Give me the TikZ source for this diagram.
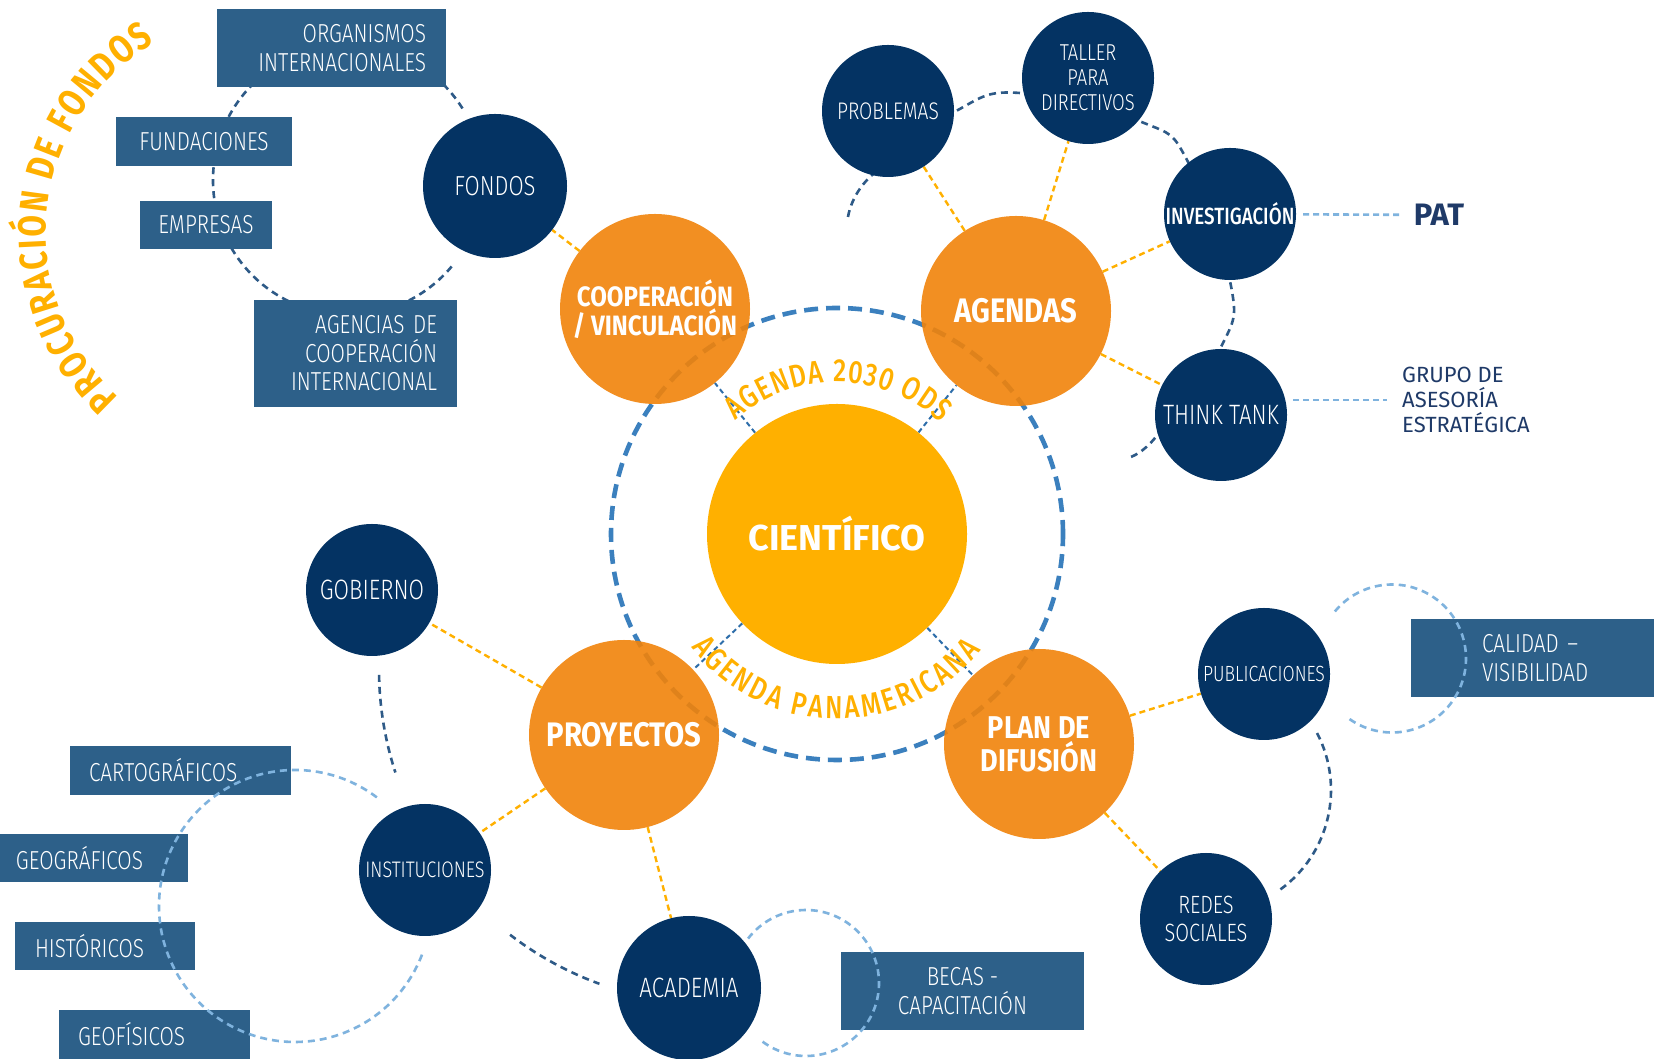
\documentclass[tikz,border=0pt]{standalone}
\usepackage{fontspec}
\setmainfont{Fira Sans}
\IfFontExistsTF{Fira Sans Light}
  {\newfontfamily\condfont[FakeStretch=0.8]{Fira Sans Light}}
  {\newfontfamily\condfont[FakeStretch=0.8]{Fira Sans}}
\IfFontExistsTF{Fira Sans Medium}
  {\newfontfamily\midfont[FakeStretch=0.8]{Fira Sans Medium}}
  {\newfontfamily\midfont[FakeStretch=0.8]{Fira Sans Bold}}
\newfontfamily\headfont[FakeStretch=0.86]{Fira Sans}
\newfontfamily\titlefont[FakeStretch=0.8]{Fira Sans}
\usetikzlibrary{decorations.text}
\newcommand\fsz[2]{\fontsize{#1}{#2}\selectfont}
\pgfdeclarelayer{paper}
\pgfdeclarelayer{lines}
\pgfsetlayers{paper,lines,main}

\begin{document}
\begin{tikzpicture}[x=1pt, y=1pt,
    navycirc/.style={circle, fill=navy, text=white, inner sep=0pt, minimum size=132pt, align=center, font=\condfont\fsz{26}{28}},
    orangecirc/.style={circle, fill=corange, fill opacity=0.9, text opacity=1, text=white, inner sep=0pt, minimum size=190pt, align=center, font=\headfont\bfseries\fsz{34}{34}},
    fundbox/.style={fill=steel, text=white, inner sep=0pt, align=center, font=\condfont\fsz{26}{29}},
    ylink/.style={draw=ylw, line width=2.4pt, dash pattern=on 6pt off 4pt},
    clink/.style={draw=linkblue, line width=2pt, dash pattern=on 5pt off 3.5pt},
    lblink/.style={draw=lightblue, line width=2.6pt, dash pattern=on 6pt off 4pt},
    orbit/.style={draw=ringnavy, line width=2.6pt, dash pattern=on 7pt off 5pt},
    lborbit/.style={draw=lightblue, line width=2.6pt, dash pattern=on 7pt off 5pt},
  ]

    % Define colors
    \definecolor{navy}{RGB}{4,51,99}
    \definecolor{steel}{RGB}{45,96,137}
    \definecolor{corange}{RGB}{241,131,10}
    \definecolor{ylw}{RGB}{255,176,0}
    \definecolor{bigblue}{RGB}{59,128,190}
    \definecolor{linkblue}{RGB}{46,110,170}
    \definecolor{ringnavy}{RGB}{46,90,135}
    \definecolor{lightblue}{RGB}{127,179,222}
    \definecolor{textnavy}{RGB}{31,58,104}

    \useasboundingbox (0,0) rectangle (1656,1059);
    \begin{pgfonlayer}{paper}
      \fill[white] (0,0) rectangle (1656,1059);
    \end{pgfonlayer}

    % boxes
    \node[fundbox, minimum width=229pt, minimum height=78pt, text width=189pt, align=right] (org) at (331.5,1011) {ORGANISMOS\\INTERNACIONALES};
    \node[fundbox, minimum width=176pt, minimum height=49pt] (fund) at (204,917.5) {FUNDACIONES};
    \node[fundbox, minimum width=132pt, minimum height=48pt] (emp) at (206,834) {EMPRESAS};
    \node[fundbox, minimum width=203pt, minimum height=107pt, text width=163pt, align=right, font=\condfont\fsz{26}{28.5}] (agen) at (355.5,705.5) {AGENCIAS DE\\COOPERACIÓN\\INTERNACIONAL};
    \node[fundbox, minimum width=221pt, minimum height=49pt, text width=183pt, align=left] (carto) at (180.5,288.5) {CARTOGRÁFICOS};
    \node[fundbox, minimum width=188pt, minimum height=48pt, text width=156pt, align=left] (geog) at (94,201) {GEOGRÁFICOS};
    \node[fundbox, minimum width=180pt, minimum height=48pt, text width=140pt, align=left] (hist) at (105,113) {HISTÓRICOS};
    \node[fundbox, minimum width=191pt, minimum height=49pt, text width=153pt, align=left] (geof) at (154.5,24.5) {GEOFÍSICOS};
    \node[fundbox, minimum width=243pt, minimum height=78pt] (becas) at (962.5,68) {BECAS -\\CAPACITACIÓN};
    \node[fundbox, minimum width=243pt, minimum height=78pt, text width=101pt, align=left] (calidad) at (1532.5,401) {CALIDAD –\\VISIBILIDAD};

    % light rings over the boxes
    \draw[lborbit] (295,153) ++(53:136) arc[start angle=53, end angle=340, radius=136];
    \draw[lborbit] (806,76) ++(-126.5:73) arc[start angle=-126.5, end angle=142.5, radius=73];
    \draw[lborbit] (1392,400.5) ++(-125:74) arc[start angle=-125, end angle=143, radius=74];

    % main circles
    \node[circle, fill=ylw, text=white, inner sep=0pt, minimum size=260pt, font=\bfseries\fsz{36}{36}] (cient) at (837,525) {CIENTÍFICO};
    \node[orangecirc, font=\headfont\bfseries\fsz{28}{29}] (coop) at (655,750) {COOPERACIÓN\\/ VINCULACIÓN};
    \node[orangecirc] (agendas) at (1016,748) {AGENDAS};
    \node[orangecirc] (proy) at (624,324) {PROYECTOS};
    \node[orangecirc, font=\headfont\bfseries\fsz{31.5}{33}] (plan) at (1039,315) {PLAN DE\\DIFUSIÓN};

    \node[navycirc, minimum size=144pt, font=\condfont\fsz{27.5}{29}] (fondos) at (495,873) {FONDOS};
    \node[navycirc, font=\condfont\fsz{24}{26}] (prob) at (888,948) {PROBLEMAS};
    \node[navycirc, font=\condfont\fsz{23}{25}] (taller) at (1088,981) {TALLER\\PARA\\DIRECTIVOS};
    \node[navycirc, font=\midfont\fsz{23.5}{25}] (inv) at (1230,845) {INVESTIGACIÓN};
    \node[navycirc, font=\condfont\fsz{28}{30}] (think) at (1221,644) {THINK TANK};
    \node[navycirc, font=\condfont\fsz{28}{30}] (gob) at (372,469) {GOBIERNO};
    \node[navycirc, font=\condfont\fsz{22.5}{24}] (inst) at (425,189) {INSTITUCIONES};
    \node[navycirc, minimum size=144pt, font=\condfont\fsz{28}{30}] (acad) at (689,71) {ACADEMIA};
    \node[navycirc, font=\condfont\fsz{22}{24}] (pub) at (1264,385) {PUBLICACIONES};
    \node[navycirc, font=\condfont\fsz{25}{28}] (redes) at (1206,140) {REDES\\SOCIALES};

    % side labels
    \node[inner sep=0pt, text=textnavy, font=\bfseries\fsz{31}{31}] (pat) at (1439,844) {PAT};
    \node[inner sep=0pt, text=textnavy, anchor=west, align=left, font=\fsz{22}{25}] (grupo) at (1402,659) {GRUPO DE\\ASESORÍA\\ESTRATÉGICA};

    % curved titles
    \path[decorate, decoration={text along path, text align={fit to path},
        text={|\midfont\fsz{32}{32}\color{ylw}|AGENDA 2030 ODS}}]
        (cient.center) ++(132:152) arc[start angle=132, end angle=47, radius=152];
    \path[decorate, decoration={text along path, text align={fit to path},
        text={|\midfont\fsz{32}{32}\color{ylw}|AGENDA PANAMERICANA}}]
        (cient.center) ++(218:185) arc[start angle=218, end angle=321, radius=185];
    \path[decorate, decoration={text along path, text align={fit to path},
        text={|\titlefont\bfseries\fsz{39}{39}\color{ylw}|PROCURACIÓN DE FONDOS}}]
        (267,826) ++(228:221) arc[start angle=228, end angle=120.5, radius=221];

    \begin{pgfonlayer}{lines}
      % big ring
      \draw[bigblue, line width=4.6pt, dash pattern=on 14pt off 8pt] (cient.center) circle[radius=226];

      % orbits
      \draw[orbit] (348,879) ++(32:135) arc[start angle=32, end angle=322, radius=135];
      \draw[orbit] plot[smooth, tension=0.6] coordinates {(848,842) (869,881) (958,949) (1020,966) (1144,936) (1187,899) (1231,773) (1222,714) (1155,621) (1127,601)};
      \draw[orbit] (714,390) ++(181:335) arc[start angle=181, end angle=198, radius=335];
      \draw[orbit] (714,390) ++(232.5:335) arc[start angle=232.5, end angle=250, radius=335];
      \draw[orbit] (1208,269) ++(27.6:123) arc[start angle=27.6, end angle=-54.2, radius=123];

      % links to the centre
      \foreach \n in {coop,agendas,proy,plan}
        \draw[clink] (cient) -- (\n);

      % yellow links
      \draw[ylink] (coop) -- (fondos);
      \foreach \n in {prob,taller,inv,think}
        \draw[ylink] (agendas) -- (\n);
      \foreach \n in {gob,inst,acad}
        \draw[ylink] (proy) -- (\n);
      \draw[ylink] (plan) -- (pub);
      \draw[ylink] (plan) -- (redes);

      % light links
      \draw[lblink, shorten <=7pt, shorten >=14pt] (inv) -- (pat);
      \draw[lblink, shorten <=6pt, shorten >=15pt] (think.east |- grupo.west) -- (grupo.west);
    \end{pgfonlayer}

\end{tikzpicture}
\end{document}
